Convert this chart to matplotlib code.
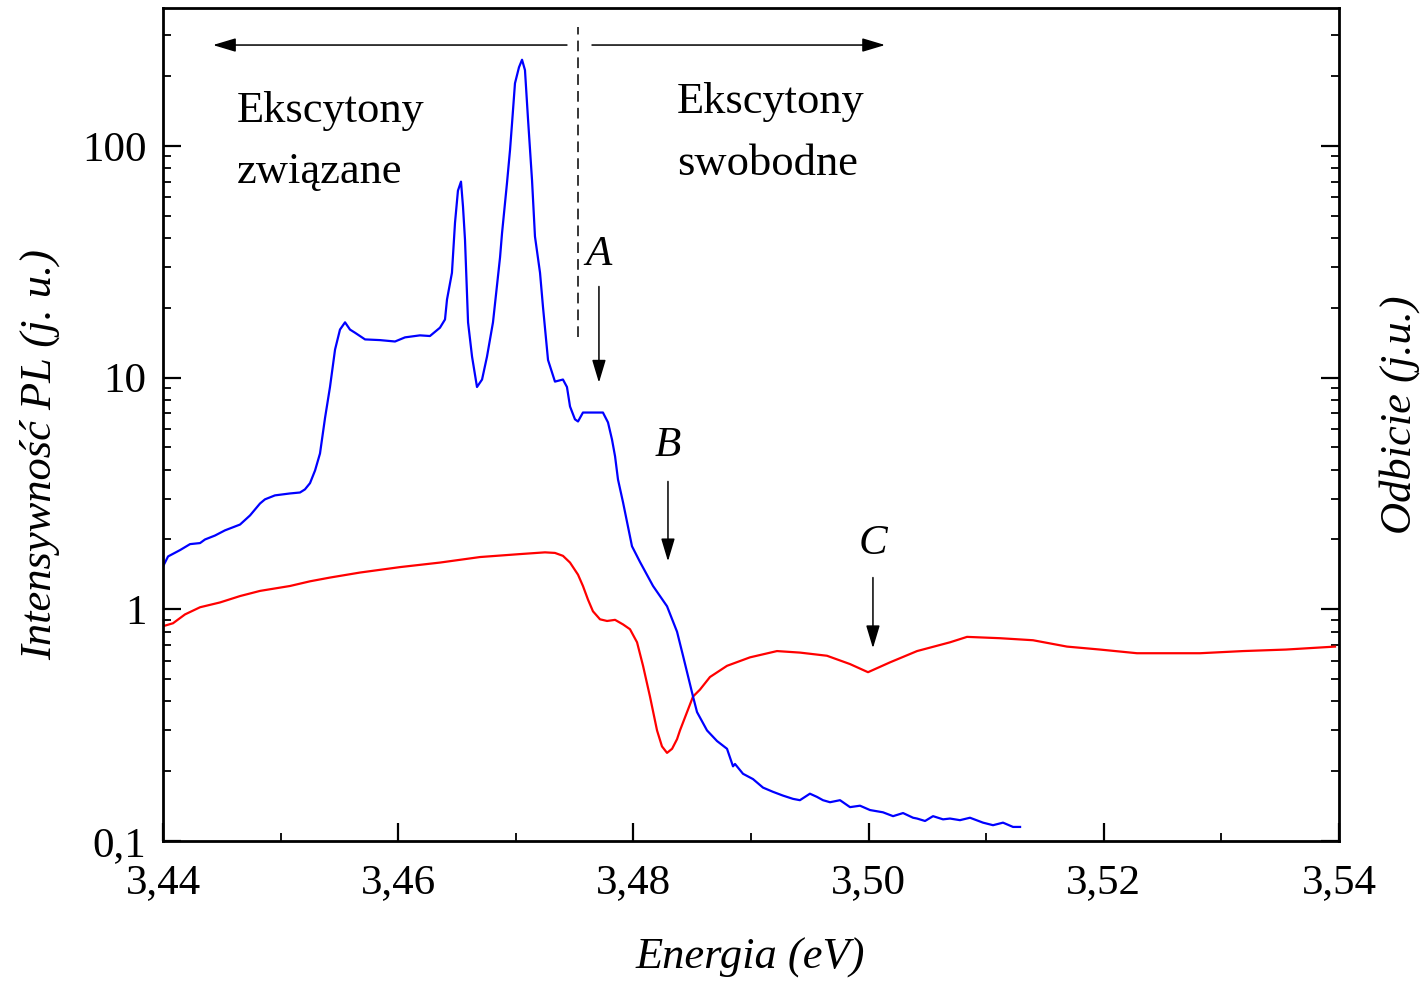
import matplotlib
matplotlib.use("Agg")
import matplotlib.pyplot as plt
from matplotlib.ticker import FixedLocator, LogLocator, NullFormatter

plt.rcParams['font.family'] = ['Liberation Serif', 'DejaVu Serif']

# PL spectrum (blue)
pl_energy = [3.44000, 3.44043, 3.44145, 3.44230, 3.44315, 3.44357, 3.44442, 3.44527,
             3.44655, 3.44740, 3.44825, 3.44867, 3.44952, 3.45080, 3.45165, 3.45207,
             3.45250, 3.45293, 3.45335, 3.45378, 3.45420, 3.45463, 3.45505, 3.45548,
             3.45590, 3.45633, 3.45718, 3.45845, 3.45973, 3.46058, 3.46185, 3.46270,
             3.46355, 3.46398, 3.46415, 3.46457, 3.46483, 3.46508, 3.46534, 3.46551,
             3.46568, 3.46594, 3.46628, 3.46670, 3.46713, 3.46755, 3.46806, 3.46866,
             3.46883, 3.46925, 3.46951, 3.46968, 3.46993, 3.47027, 3.47053, 3.47078,
             3.47104, 3.47138, 3.47163, 3.47206, 3.47231, 3.47274, 3.47333, 3.47401,
             3.47435, 3.47461, 3.47503, 3.47529, 3.47571, 3.47656, 3.47741, 3.47784,
             3.47818, 3.47844, 3.47869, 3.47912, 3.47988, 3.48056, 3.48167, 3.48286,
             3.48371, 3.48422, 3.48507, 3.48541, 3.48626, 3.48711, 3.48796, 3.48847,
             3.48864, 3.48932, 3.49017, 3.49102, 3.49187, 3.49272, 3.49357, 3.49416,
             3.49501, 3.49561, 3.49612, 3.49672, 3.49757, 3.49842, 3.49927, 3.50012,
             3.50122, 3.50208, 3.50293, 3.50378, 3.50412, 3.50480, 3.50548, 3.50633,
             3.50692, 3.50777, 3.50862, 3.50973, 3.51058, 3.51143, 3.51228, 3.51288]
pl_intensity = [1.53, 1.69, 1.80, 1.91, 1.93, 2.00, 2.08, 2.19,
                2.32, 2.54, 2.86, 2.98, 3.10, 3.16, 3.19, 3.29,
                3.50, 3.97, 4.70, 6.7, 9.1, 13.2, 16.1, 17.3,
                16.1, 15.6, 14.6, 14.5, 14.3, 14.9, 15.2, 15.1,
                16.4, 17.8, 21.7, 28.3, 46.5, 64, 70, 54.6,
                39.3, 17.3, 12.3, 9.1, 9.8, 12.3, 17.3, 33,
                42, 69, 96, 125, 186, 218, 235, 212,
                130, 71, 40.6, 28.3, 20.2, 11.9, 9.6, 9.8,
                9.1, 7.5, 6.6, 6.46, 7.06, 7.06, 7.06, 6.4,
                5.4, 4.57, 3.63, 2.89, 1.87, 1.6, 1.26, 1.03,
                0.80, 0.63, 0.42, 0.36, 0.30, 0.27, 0.25, 0.21,
                0.215, 0.195, 0.185, 0.17, 0.163, 0.157, 0.152, 0.15,
                0.16, 0.155, 0.15, 0.147, 0.15, 0.14, 0.142, 0.136,
                0.133, 0.128, 0.132, 0.126, 0.125, 0.122, 0.128, 0.124,
                0.125, 0.123, 0.126, 0.12, 0.117, 0.12, 0.115, 0.115]

# Reflectance spectrum (red)
refl_energy = [3.44000, 3.44085, 3.44187, 3.44315, 3.44485, 3.44655, 3.44825, 3.45080,
               3.45250, 3.45420, 3.45675, 3.46015, 3.46355, 3.46696, 3.47036, 3.47248,
               3.47333, 3.47401, 3.47461, 3.47529, 3.47571, 3.47614, 3.47656, 3.47716,
               3.47776, 3.47844, 3.47912, 3.47971, 3.48031, 3.48082, 3.48141, 3.48201,
               3.48243, 3.48286, 3.48329, 3.48371, 3.48396, 3.48507, 3.48566, 3.48651,
               3.48796, 3.48991, 3.49221, 3.49417, 3.49646, 3.49842, 3.49995, 3.50182,
               3.50412, 3.50692, 3.50837, 3.51117, 3.51398, 3.51687, 3.51968, 3.52282,
               3.52818, 3.53184, 3.53549, 3.53966]
refl_value = [0.845, 0.87, 0.95, 1.02, 1.07, 1.14, 1.20, 1.26,
              1.32, 1.37, 1.44, 1.52, 1.59, 1.68, 1.73, 1.76,
              1.75, 1.70, 1.59, 1.41, 1.26, 1.10, 0.98, 0.905,
              0.89, 0.90, 0.86, 0.82, 0.72, 0.57, 0.42, 0.30,
              0.256, 0.24, 0.25, 0.275, 0.30, 0.42, 0.45, 0.51,
              0.57, 0.62, 0.66, 0.65, 0.63, 0.58, 0.535, 0.59,
              0.66, 0.72, 0.76, 0.75, 0.735, 0.69, 0.67, 0.646,
              0.646, 0.66, 0.67, 0.69]

x_ticks = [3.44, 3.46, 3.48, 3.50, 3.52, 3.54]
x_tick_labels = ['3,44', '3,46', '3,48', '3,50', '3,52', '3,54']
y_ticks = [0.1, 1, 10, 100]
y_tick_labels = ['0,1', '1', '10', '100']

fig = plt.figure(figsize=(14.24, 9.82), dpi=100)
ax = fig.add_axes([163/1424, 1-841/982, (1339-163)/1424, (841-8)/982])

ax.plot(refl_energy, refl_value, color='#ff0000', lw=1.6)
ax.plot(pl_energy, pl_intensity, color='#0000ff', lw=1.6)

ax.set_yscale('log')
ax.set_xlim(3.44, 3.54)
ax.set_ylim(0.1, 393)

ax.xaxis.set_major_locator(FixedLocator(x_ticks))
ax.set_xticklabels(x_tick_labels)
ax.xaxis.set_minor_locator(FixedLocator([3.45, 3.47, 3.49, 3.51, 3.53]))
ax.yaxis.set_major_locator(FixedLocator(y_ticks))
ax.set_yticklabels(y_tick_labels)
ax.yaxis.set_minor_locator(LogLocator(base=10, subs=range(2, 10), numticks=20))
ax.yaxis.set_minor_formatter(NullFormatter())

for s in ax.spines.values():
    s.set_linewidth(2.0)
ax.tick_params(which='major', direction='in', length=13, width=1.6, labelsize=31, pad=12)
ax.tick_params(which='minor', direction='in', length=6, width=1.3)
ax.tick_params(axis='y', which='both', right=True)
ax.tick_params(axis='x', which='major', pad=16)

# Region arrows and divider
arrow_style = dict(arrowstyle='-|>,head_length=1.0,head_width=0.3',
                   mutation_scale=14, lw=1.1, color='black', shrinkA=0, shrinkB=0)
ax.annotate('', xy=(3.44425, 272), xytext=(3.47435, 272), arrowprops=arrow_style)
ax.annotate('', xy=(3.50140, 272), xytext=(3.47648, 272), arrowprops=arrow_style)
ax.plot([3.47529, 3.47529], [15.0, 326], color='black', lw=1.1, dashes=(7, 4))

ax.text(3.44629, 127, 'Ekscytony', fontsize=32, ha='left', va='baseline')
ax.text(3.44629, 69.3, 'związane', fontsize=32, ha='left', va='baseline')
ax.text(3.48371, 139, 'Ekscytony', fontsize=32, ha='left', va='baseline')
ax.text(3.48371, 75, 'swobodne', fontsize=32, ha='left', va='baseline')

# Exciton markers
markers = [('A', 3.47707, 30.7, 24.7, 9.5),
           ('B', 3.48294, 4.57, 3.56, 1.61),
           ('C', 3.50037, 1.73, 1.37, 0.679)]
for lab, xe, ytxt, y0, y1 in markers:
    ax.text(xe, ytxt, lab, fontsize=31, style='italic', ha='center', va='baseline')
    ax.annotate('', xy=(xe, y1), xytext=(xe, y0), arrowprops=arrow_style)

fig.text(40/1424, 1-455/982, 'Intensywność PL (j. u.)', fontsize=32, style='italic',
         rotation=90, ha='center', va='center')
fig.text(750/1424, 1-958/982, 'Energia (eV)', fontsize=32, style='italic',
         ha='center', va='center')
fig.text(1400/1424, 1-415/982, 'Odbicie (j.u.)', fontsize=32, style='italic',
         rotation=90, ha='center', va='center')

fig.savefig('out.png', dpi=100)
